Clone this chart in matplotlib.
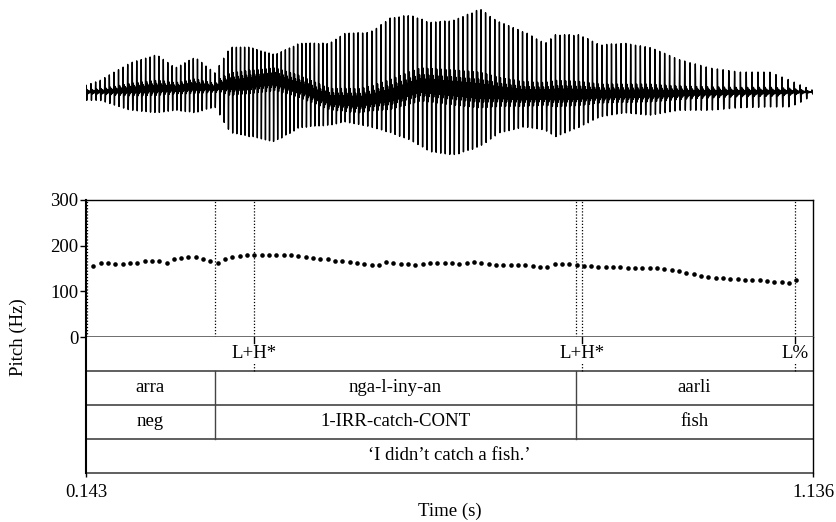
import numpy as np
import matplotlib
matplotlib.use('Agg')
import matplotlib.pyplot as plt

plt.rcParams['font.family'] = ['Liberation Serif', 'DejaVu Serif']

# time window of the picture (s)
t_start = 0.143
t_end = 1.136

# pitch track (Hz), one frame every 10 ms starting at 0.153 s
pitch_t0 = 0.153
pitch_dt = 0.01
pitch_hz = [156, 161, 161, 159, 159, 161, 163, 166, 166, 166, 163, 171, 174, 174.5, 174.5,
            171, 166, 163, 170, 174.5, 178, 179, 180, 180, 180, 179.5, 179.5, 179, 177, 175,
            174, 171.5, 170,
            166, 166, 165, 163, 160, 158, 158, 163.5, 163, 160.5, 159, 158.5, 160, 162, 162,
            161, 161, 160.5, 161, 163.5, 162, 159, 158.5, 158.5, 158.5, 158, 157, 156, 153.5,
            154, 159, 160.5, 160,
            158, 156, 155.5, 154, 153.5, 153.5, 152.5, 152, 151, 152, 151, 150.5, 149, 147.5,
            144, 140, 137, 134, 131.5, 130, 128.5, 127, 126, 125.5, 124.5, 124,
            122, 121, 120, 119, 124]

# tone tier (points)
tone_times = [0.373, 0.820, 1.111]
tone_labels = ['L+H*', 'L+H*', 'L%']

# word, gloss and translation tiers
word_bounds = [0.143, 0.319, 0.812, 1.136]
words = ['arra', 'nga-l-iny-an', 'aarli']
glosses = ['neg', '1-IRR-catch-CONT', 'fish']
translation = '\u2018I didn\u2019t catch a fish.\u2019'

# waveform envelope (relative amplitude, 1 = biggest peak)
env_t = [0.143, 0.162, 0.203, 0.240, 0.265, 0.292, 0.319, 0.340, 0.367, 0.401, 0.435,
         0.476, 0.497, 0.531, 0.558, 0.586, 0.613, 0.647, 0.681, 0.709, 0.743, 0.770,
         0.784, 0.818, 0.845, 0.879, 0.913, 0.954, 0.995, 1.036, 1.077, 1.105, 1.125, 1.136]
env_top = [0.08, 0.14, 0.35, 0.45, 0.29, 0.42, 0.23, 0.54, 0.54, 0.45, 0.59,
           0.59, 0.71, 0.72, 0.89, 0.93, 0.84, 0.87, 1.00, 0.84, 0.72, 0.59,
           0.69, 0.69, 0.57, 0.59, 0.54, 0.39, 0.29, 0.24, 0.24, 0.14, 0.06, 0.02]
env_bot = [0.10, 0.10, 0.22, 0.25, 0.22, 0.25, 0.18, 0.49, 0.54, 0.60, 0.43,
           0.40, 0.36, 0.42, 0.49, 0.58, 0.72, 0.76, 0.66, 0.49, 0.42, 0.46,
           0.54, 0.42, 0.30, 0.25, 0.28, 0.22, 0.22, 0.19, 0.18, 0.18, 0.10, 0.02]
# drift of the dark middle band
band_t = [0.143, 0.340, 0.401, 0.435, 0.476, 0.517, 0.558, 0.600, 0.681, 0.740, 0.850, 1.136]
band_off = [0.0, 0.08, 0.14, 0.05, -0.10, -0.12, -0.05, 0.07, 0.0, -0.04, -0.03, 0.0]

fig = plt.figure(figsize=(8.36, 5.22), dpi=100)
W, H = 836.0, 522.0
x0, x1 = 86, 813

# ---- waveform ----
sr = 20000
t = np.arange(t_start, t_end, 1.0 / sr)
ptimes = pitch_t0 + pitch_dt * np.arange(len(pitch_hz))
f0 = np.interp(t, ptimes, pitch_hz)
ph = (np.cumsum(f0) / sr) % 1.0
top = np.interp(t, env_t, env_top)
bot = np.interp(t, env_t, env_bot)
off = np.interp(t, band_t, band_off)
mid = 0.32 * (top + bot) / 2
up = np.exp(-((ph - 0.06) / 0.035) ** 2)
down = np.exp(-((ph - 0.17) / 0.035) ** 2)
late = np.clip(ph - 0.24, 0, None)
ring = np.where(ph > 0.24, np.exp(-2.0 * late) * np.sin(2 * np.pi * 4.5 * late), 0.0)
scale_off = np.minimum(1, (top + bot) * 1.5)
wave = (top - off * scale_off) * up - (bot + off * scale_off) * down + mid * ring + off * scale_off

ax_w = fig.add_axes([x0 / W, 1 - 180 / H, (x1 - x0) / W, 176 / H])
ax_w.plot(t, wave, color='black', lw=1.0)
ax_w.set_xlim(t_start, t_end)
ax_w.set_ylim(-1.06, 1.06)
ax_w.axis('off')

# ---- pitch ----
ax_p = fig.add_axes([x0 / W, 1 - 337 / H, (x1 - x0) / W, 137 / H])
ax_p.plot(ptimes, pitch_hz, 'o', ms=3.3, color='black', mew=0)
ax_p.set_xlim(t_start, t_end)
ax_p.set_ylim(0, 300)
ax_p.set_yticks([0, 100, 200, 300])
ax_p.set_xticks([])
ax_p.tick_params(axis='y', direction='out', length=4.5, width=1, pad=1, labelsize=13.5)
for s in ['left', 'top', 'right']:
    ax_p.spines[s].set_color('black')
ax_p.spines['left'].set_linewidth(1.5)
ax_p.spines['top'].set_linewidth(1.0)
ax_p.spines['right'].set_linewidth(1.0)
ax_p.spines['bottom'].set_color('#555555')
ax_p.spines['bottom'].set_linewidth(1.2)
dots = [t_start + 0.0008] + word_bounds[1:3] + tone_times
for d in dots:
    ax_p.axvline(d, color='black', lw=0.9, ls=(0, (1, 1.5)))

# ---- tiers ----
ax_t = fig.add_axes([x0 / W, 1 - 473 / H, (x1 - x0) / W, 136 / H])
ax_t.set_xlim(t_start, t_end)
ax_t.set_ylim(0, 4)
for s in ax_t.spines.values():
    s.set_visible(False)
ax_t.set_yticks([])
ax_t.set_xticks([t_start, t_end])
ax_t.set_xticklabels(['0.143', '1.136'])
ax_t.tick_params(axis='x', direction='out', length=3, width=1, pad=5, labelsize=13.5)
ax_t.set_xlabel('Time (s)', fontsize=13.5, labelpad=1)

grey = '#444444'
for y in [0, 1, 2, 3]:
    ax_t.plot([t_start, t_end], [y, y], color=grey, lw=1.2, clip_on=False)
ax_t.plot([t_start, t_start], [0, 4], color='black', lw=1.5, clip_on=False)
ax_t.plot([t_end, t_end], [0, 4], color='black', lw=1.0, clip_on=False)
for b in word_bounds[1:3]:
    ax_t.plot([b, b], [1, 3], color=grey, lw=1.0)

for tt, lab in zip(tone_times, tone_labels):
    ax_t.plot([tt, tt], [3.82, 4], color='black', lw=1.0)
    ax_t.plot([tt, tt], [3.0, 3.24], color='black', lw=0.9, ls=(0, (1, 1.5)))
    ax_t.text(tt, 3.5, lab, ha='center', va='center', fontsize=13.5)

for i in range(len(words)):
    xm = (word_bounds[i] + word_bounds[i + 1]) / 2
    ax_t.text(xm, 2.5, words[i], ha='center', va='center', fontsize=13.5)
    ax_t.text(xm, 1.5, glosses[i], ha='center', va='center', fontsize=13.5)
ax_t.text((t_start + t_end) / 2, 0.5, translation, ha='center', va='center', fontsize=13.5)

fig.text(18 / W, 1 - 337 / H, 'Pitch (Hz)', rotation=90, ha='center', va='center', fontsize=13.5)

fig.savefig('out.png', dpi=100)
